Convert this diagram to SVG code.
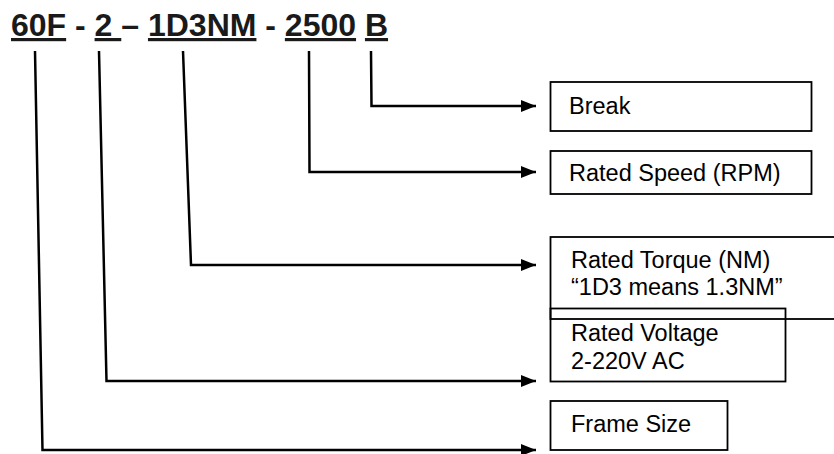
<svg xmlns="http://www.w3.org/2000/svg" width="834" height="454" viewBox="0 0 834 454">
  <style>
    .title { font-family: "Liberation Sans", Arial, sans-serif; font-weight: bold; font-size: 32px; fill: #1a1a1a; }
    .u { text-decoration: underline; }
    .lbl { font-family: "Liberation Sans", Arial, sans-serif; font-size: 23.5px; fill: #000; }
    .box { fill: none; stroke: #000; stroke-width: 1.8; }
    .conn { fill: none; stroke: #000; stroke-width: 2.5; stroke-linejoin: miter; }
  </style>
  <defs>
    <marker id="arrow" markerUnits="userSpaceOnUse" markerWidth="16" markerHeight="14" refX="15" refY="6" orient="auto">
      <path d="M0,0 L15,6 L0,12 Z" fill="#000"/>
    </marker>
  </defs>
  <rect width="834" height="454" fill="#fff"/>

  <g id="title">
    <text class="title" x="11" y="36"><tspan class="u">60F</tspan> - <tspan class="u">2 </tspan>– <tspan class="u">1D3NM</tspan> - <tspan class="u">2500</tspan> <tspan class="u">B</tspan></text>
  </g>

  <g id="connectors">
    <path class="conn" d="M371,51 L371.5,106 L536,106" marker-end="url(#arrow)"/>
    <path class="conn" d="M309,51 L309.5,172 L536,172" marker-end="url(#arrow)"/>
    <path class="conn" d="M183,51 L191,265 L536,265" marker-end="url(#arrow)"/>
    <path class="conn" d="M99,51 L106.5,381 L536,381" marker-end="url(#arrow)"/>
    <path class="conn" d="M35,51 L42.5,450 L536,450" marker-end="url(#arrow)"/>
  </g>

  <g id="break">
    <rect class="box" x="550.5" y="82" width="261" height="49"/>
    <text class="lbl" x="569" y="114">Break</text>
  </g>
  <g id="rated-speed">
    <rect class="box" x="550.5" y="151" width="261" height="43"/>
    <text class="lbl" x="569" y="181">Rated Speed (RPM)</text>
  </g>
  <g id="rated-torque">
    <rect class="box" x="550.5" y="237" width="300" height="82"/>
    <text class="lbl" x="571" y="268">Rated Torque (NM)</text>
    <text class="lbl" x="571" y="295">“1D3 means 1.3NM”</text>
  </g>
  <g id="rated-voltage">
    <rect class="box" x="550.5" y="308.5" width="235" height="73"/>
    <text class="lbl" x="571" y="341">Rated Voltage</text>
    <text class="lbl" x="571" y="369">2-220V AC</text>
  </g>
  <g id="frame-size">
    <rect class="box" x="550.5" y="401" width="177" height="49"/>
    <text class="lbl" x="571" y="432">Frame Size</text>
  </g>
</svg>
